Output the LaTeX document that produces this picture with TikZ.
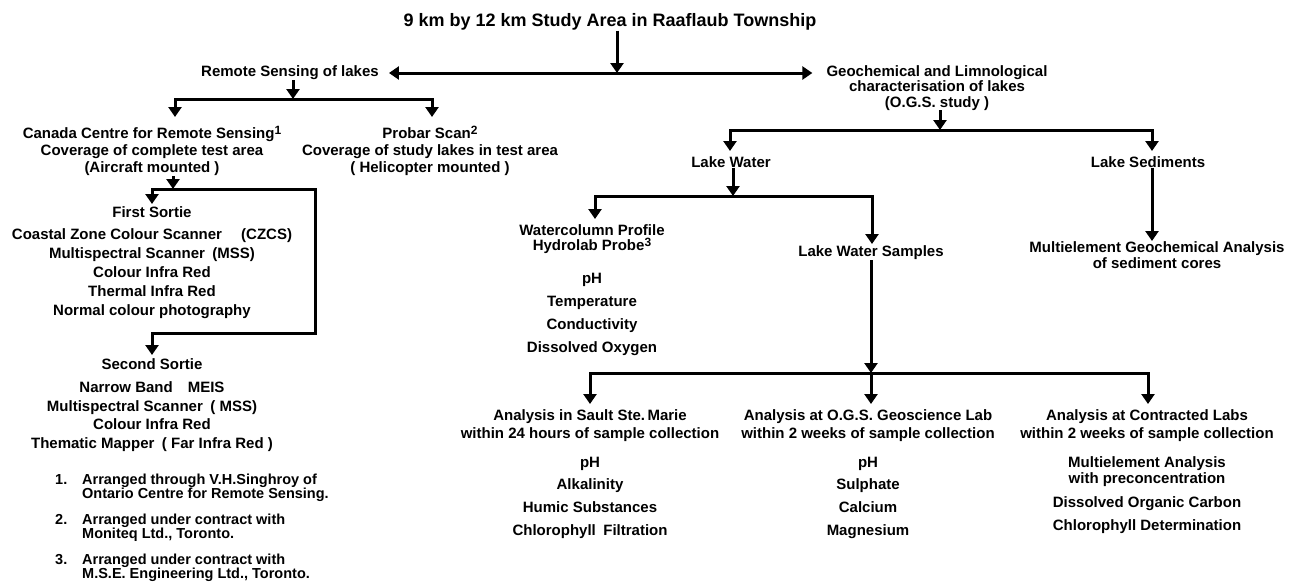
\documentclass[tikz,border=0pt]{standalone}
\usepackage{fontspec}
\setmainfont{Liberation Sans}
\usetikzlibrary{arrows.meta}

% body text of the chart: bold sans, leading set per block
\newcommand\chartfont[1]{\fontsize{15}{#1}\selectfont\bfseries}
% tight leading for the notes at the foot
\newcommand\notefont{\fontsize{14.5}{14}\selectfont\bfseries\lineskiplimit=-10pt\relax}
% footnote marks set after a heading
\newcommand\fnmark[1]{\raisebox{4pt}{\fontsize{12}{12}\selectfont #1}}
% numbered note line and its indented continuation
\newcommand\noteno[1]{\makebox[27pt][l]{#1}}
\newcommand\noteindent{\hspace*{27pt}}

\begin{document}
\begin{tikzpicture}[x=1pt,y=-1pt,
  every node/.style={inner sep=0pt, align=center, font=\chartfont{18}},
  block/.style={anchor=north},
  arr/.style={line width=3pt, -{Triangle[width=13pt,length=10pt]}},
  dbl/.style={line width=3pt, {Triangle[width=13pt,length=10pt]}-{Triangle[width=13pt,length=10pt]}}]

\fill[white] (0,0) rectangle (1293,581);
\useasboundingbox (0,0) rectangle (1293,581);

% ---------- top level ----------
\node[font=\fontsize{18}{20}\selectfont\bfseries] (T) at (610,22)
  {9 km by 12 km Study Area in Raaflaub Township};
\node (RS) at (290,73) {Remote Sensing of lakes};
\node[block, font=\chartfont{15.5}] (GC) at (937,65)
  {Geochemical and Limnological\\characterisation of lakes\\(O.G.S.\ study )};

% ---------- remote sensing branch ----------
\node[block, font=\chartfont{17}] (CC) at (152,126)
  {Canada Centre for Remote Sensing\fnmark{1}\\Coverage of complete test area\\(Aircraft mounted )};
\node[block, font=\chartfont{17}] (PS) at (430,126)
  {Probar Scan\fnmark{2}\\Coverage of study lakes in test area\\( Helicopter mounted )};

\node[block, font=\chartfont{19}] (FS) at (152,206)
  {First Sortie\\[3pt]Coastal Zone Colour Scanner\quad\ (CZCS)\\Multispectral Scanner\enspace(MSS)\\Colour Infra Red\\Thermal Infra Red\\Normal colour photography};
\node[block, font=\chartfont{18.5}] (SS) at (152,358)
  {Second Sortie\\[5pt]Narrow Band\quad MEIS\\Multispectral Scanner\enspace( MSS)\\Colour Infra Red\\Thematic Mapper\enspace( Far Infra Red )};

\node[anchor=north west, align=left, font=\notefont] (FN) at (55,474)
  {\noteno{1.}Arranged through V.H.Singhroy of\\
   \noteindent Ontario Centre for Remote Sensing.\\[12pt]
   \noteno{2.}Arranged under contract with\\
   \noteindent Moniteq Ltd., Toronto.\\[12pt]
   \noteno{3.}Arranged under contract with\\
   \noteindent M.S.E. Engineering Ltd., Toronto.};

% ---------- geochemical branch ----------
\node (LW) at (731,162) {Lake Water};
\node (LS) at (1148,162) {Lake Sediments};
\node[block, font=\chartfont{15}] (WC) at (592,224)
  {Watercolumn Profile\\Hydrolab Probe\fnmark{3}\\[18pt]pH\\[8pt]Temperature\\[8pt]Conductivity\\[8pt]Dissolved Oxygen};
\node (LWS) at (871,253) {Lake Water Samples};
\node[block, font=\chartfont{16}] (MGA) at (1157,241)
  {Multielement Geochemical Analysis\\of sediment cores};

\node[block, font=\chartfont{18}] (A1) at (590,409)
  {Analysis in Sault Ste.\,Marie\\within 24 hours of sample collection\\[11pt]pH\\[4pt]Alkalinity\\[5pt]Humic Substances\\[5pt]Chlorophyll\enspace Filtration};
\node[block, font=\chartfont{18}] (A2) at (868,409)
  {Analysis at O.G.S.\ Geoscience Lab\\within 2 weeks of sample collection\\[11pt]pH\\[4pt]Sulphate\\[5pt]Calcium\\[5pt]Magnesium};
\node[block, font=\chartfont{18}] (A3) at (1147,409)
  {Analysis at Contracted Labs\\within 2 weeks of sample collection\\[11pt]Multielement Analysis\\[-2pt]with preconcentration\\[6pt]Dissolved Organic Carbon\\[5pt]Chlorophyll Determination};

% ---------- junctions and arrow tips ----------
\coordinate (j1) at (617,73);
\coordinate (j2) at (293,99);
\coordinate (ccIn) at (175,117);
\coordinate (psIn) at (432,117);
\coordinate (j3) at (173,189);
\coordinate (fsIn) at (152,204);
\coordinate (loop) at (315,333);
\coordinate (ssIn) at (152,355);
\coordinate (j4) at (940,130);
\coordinate (lwIn) at (730,151);
\coordinate (lsIn) at (1152,151);
\coordinate (j5) at (733,196);
\coordinate (wcIn) at (595,219);
\coordinate (lwsIn) at (872,244);
\coordinate (j6) at (871,373);
\coordinate (a1In) at (590,404);
\coordinate (a2In) at (871,404);
\coordinate (a3In) at (1148,404);

% ---------- connectors ----------
\draw[arr] (T.south -| j1) -- (j1);
\draw[dbl, shorten <=10pt, shorten >=14pt] (RS.east) -- (RS.east -| GC.west);

\draw[arr] (RS.south -| j2) -- (j2);
\draw[arr] (j2) -| (ccIn);
\draw[arr] (j2) -| (psIn);
\draw[arr] (CC.south -| j3) -- (j3);
\draw[arr] (j3) -| (fsIn);
\draw[arr] (j3) -| (loop) -| (ssIn);

\draw[arr] (GC.south -| j4) -- (j4);
\draw[arr] (j4) -| (lwIn);
\draw[arr] (j4) -| (lsIn);
\draw[arr] (LW.south -| j5) -- (j5);
\draw[arr] (j5) -| (wcIn);
\draw[arr] (j5) -| (lwsIn);
\draw[arr] (LS.south -| lsIn) -- (MGA.north -| lsIn);
\draw[arr] (LWS.south -| j6) -- (j6);
\draw[arr] (j6) -| (a1In);
\draw[arr] (j6) -| (a3In);
\draw[arr] (j6) -- (a2In);
\end{tikzpicture}
\end{document}
